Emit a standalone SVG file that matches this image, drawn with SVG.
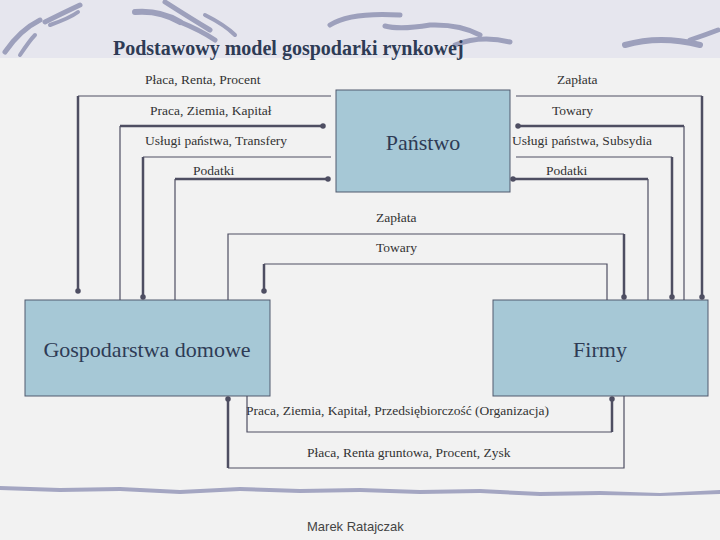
<svg xmlns="http://www.w3.org/2000/svg" width="720" height="540" viewBox="0 0 720 540">
<style>
.box{fill:#a6c8d6;stroke:#505a6e;stroke-width:1;}
.thin{fill:none;stroke:#4e4e62;stroke-width:1.2;}
.thick{fill:none;stroke:#4e4e62;stroke-width:2.5;}
.deco{fill:none;stroke:#9da0bc;stroke-linecap:round;}
</style>
<defs>
<marker id="dot" viewBox="0 0 4 4" refX="2" refY="2" markerWidth="2.2" markerHeight="2.2"><circle cx="2" cy="2" r="2" fill="#4e4e62"/></marker>
</defs>
<rect width="720" height="540" fill="#f2f2f2"/>
<rect width="720" height="58" fill="#e6e6ee"/>
<g id="decor">
<path class="deco" stroke-width="5" d="M5 52 Q20 30 40 20"/>
<path class="deco" stroke-width="4" d="M20 55 Q30 40 35 35"/>
<path class="deco" stroke-width="5" d="M45 22 Q65 12 80 5"/>
<path class="deco" stroke-width="4" d="M50 25 Q70 18 78 12"/>
<path class="deco" stroke-width="6" d="M135 12 Q160 10 180 22"/>
<path class="deco" stroke-width="5" d="M165 2 Q190 18 210 30"/>
<path class="deco" stroke-width="5" d="M180 22 Q200 30 215 40"/>
<path class="deco" stroke-width="4" d="M205 15 Q225 25 235 35"/>
<path class="deco" stroke-width="5" d="M330 25 Q350 12 400 15"/>
<path class="deco" stroke-width="5" d="M385 26 Q400 30 430 25 Q460 24 480 35"/>
<path class="deco" stroke-width="5" d="M455 45 Q480 35 510 42"/>
<path class="deco" stroke-width="6" d="M625 45 Q660 35 700 45"/>
<path class="deco" stroke-width="5" d="M690 40 Q705 35 718 30"/>
</g>
<path fill="#a4a6c2" d="M0 486 L60 488 L120 487 L180 490 L240 487 L300 489 L360 488 L420 490 L480 489 L540 492 L600 491 L660 493 L720 490 L720 494 L660 496 L600 495 L540 496 L480 493 L420 494 L360 492 L300 493 L240 491 L180 494 L120 491 L60 492 L0 490 Z"/>
<text x="113" y="55" font-family="Liberation Serif,serif" font-size="20" font-weight="bold" fill="#2e3b55">Podstawowy model gospodarki rynkowej</text>
<g id="panstwo"><rect class="box" x="336" y="90" width="174" height="102"/><text font-family="Liberation Serif,serif" font-size="22" fill="#2e3b55" x="423" y="150" text-anchor="middle">Państwo</text></g>
<g id="gospodarstwa"><rect class="box" x="25" y="300" width="245" height="96"/><text font-family="Liberation Serif,serif" font-size="22" fill="#2e3b55" x="147" y="357" text-anchor="middle">Gospodarstwa domowe</text></g>
<g id="firmy"><rect class="box" x="493" y="300" width="215" height="96"/><text font-family="Liberation Serif,serif" font-size="22" fill="#2e3b55" x="600" y="357" text-anchor="middle">Firmy</text></g>
<g id="labels" font-size="13.5" fill="#333">
<text font-family="Liberation Serif,serif" x="145" y="84">Płaca, Renta, Procent</text>
<text font-family="Liberation Serif,serif" x="557" y="84">Zapłata</text>
<text font-family="Liberation Serif,serif" x="150" y="115">Praca, Ziemia, Kapitał</text>
<text font-family="Liberation Serif,serif" x="552" y="115">Towary</text>
<text font-family="Liberation Serif,serif" x="145" y="145">Usługi państwa, Transfery</text>
<text font-family="Liberation Serif,serif" x="512" y="145">Usługi państwa, Subsydia</text>
<text font-family="Liberation Serif,serif" x="193" y="175">Podatki</text>
<text font-family="Liberation Serif,serif" x="546" y="175">Podatki</text>
<text font-family="Liberation Serif,serif" x="376" y="222">Zapłata</text>
<text font-family="Liberation Serif,serif" x="376" y="252">Towary</text>
<text font-family="Liberation Serif,serif" x="246" y="415">Praca, Ziemia, Kapitał, Przedsiębiorczość (Organizacja)</text>
<text font-family="Liberation Serif,serif" x="307" y="457">Płaca, Renta gruntowa, Procent, Zysk</text>
</g>
<g id="connectors">
<path class="thin" d="M331 96 H78"/><path class="thick" d="M78 96 V291" marker-end="url(#dot)"/>
<path class="thin" d="M120 300 V126"/><path class="thick" d="M120 126 H323" marker-end="url(#dot)"/>
<path class="thin" d="M331 157 H143"/><path class="thick" d="M143 157 V297" marker-end="url(#dot)"/>
<path class="thin" d="M175 300 V179"/><path class="thick" d="M175 179 H328" marker-end="url(#dot)"/>
<path class="thin" d="M228 300 V234 H624"/><path class="thick" d="M624 234 V297" marker-end="url(#dot)"/>
<path class="thin" d="M607 300 V264 H264"/><path class="thick" d="M264 264 V291" marker-end="url(#dot)"/>
<path class="thin" d="M516 96 H702"/><path class="thick" d="M702 96 V297" marker-end="url(#dot)"/>
<path class="thin" d="M684 300 V126"/><path class="thick" d="M684 126 H518" marker-end="url(#dot)"/>
<path class="thin" d="M516 157 H672"/><path class="thick" d="M672 157 V297" marker-end="url(#dot)"/>
<path class="thin" d="M648 300 V179"/><path class="thick" d="M648 179 H513" marker-end="url(#dot)"/>
<path class="thin" d="M247 396 V432 H612"/><path class="thick" d="M612 432 V399" marker-end="url(#dot)"/>
<path class="thin" d="M624 396 V468 H228"/><path class="thick" d="M228 468 V399" marker-end="url(#dot)"/>
</g>
<text x="307" y="531" font-family="Liberation Sans,sans-serif" font-size="13" fill="#444">Marek Ratajczak</text>
</svg>
